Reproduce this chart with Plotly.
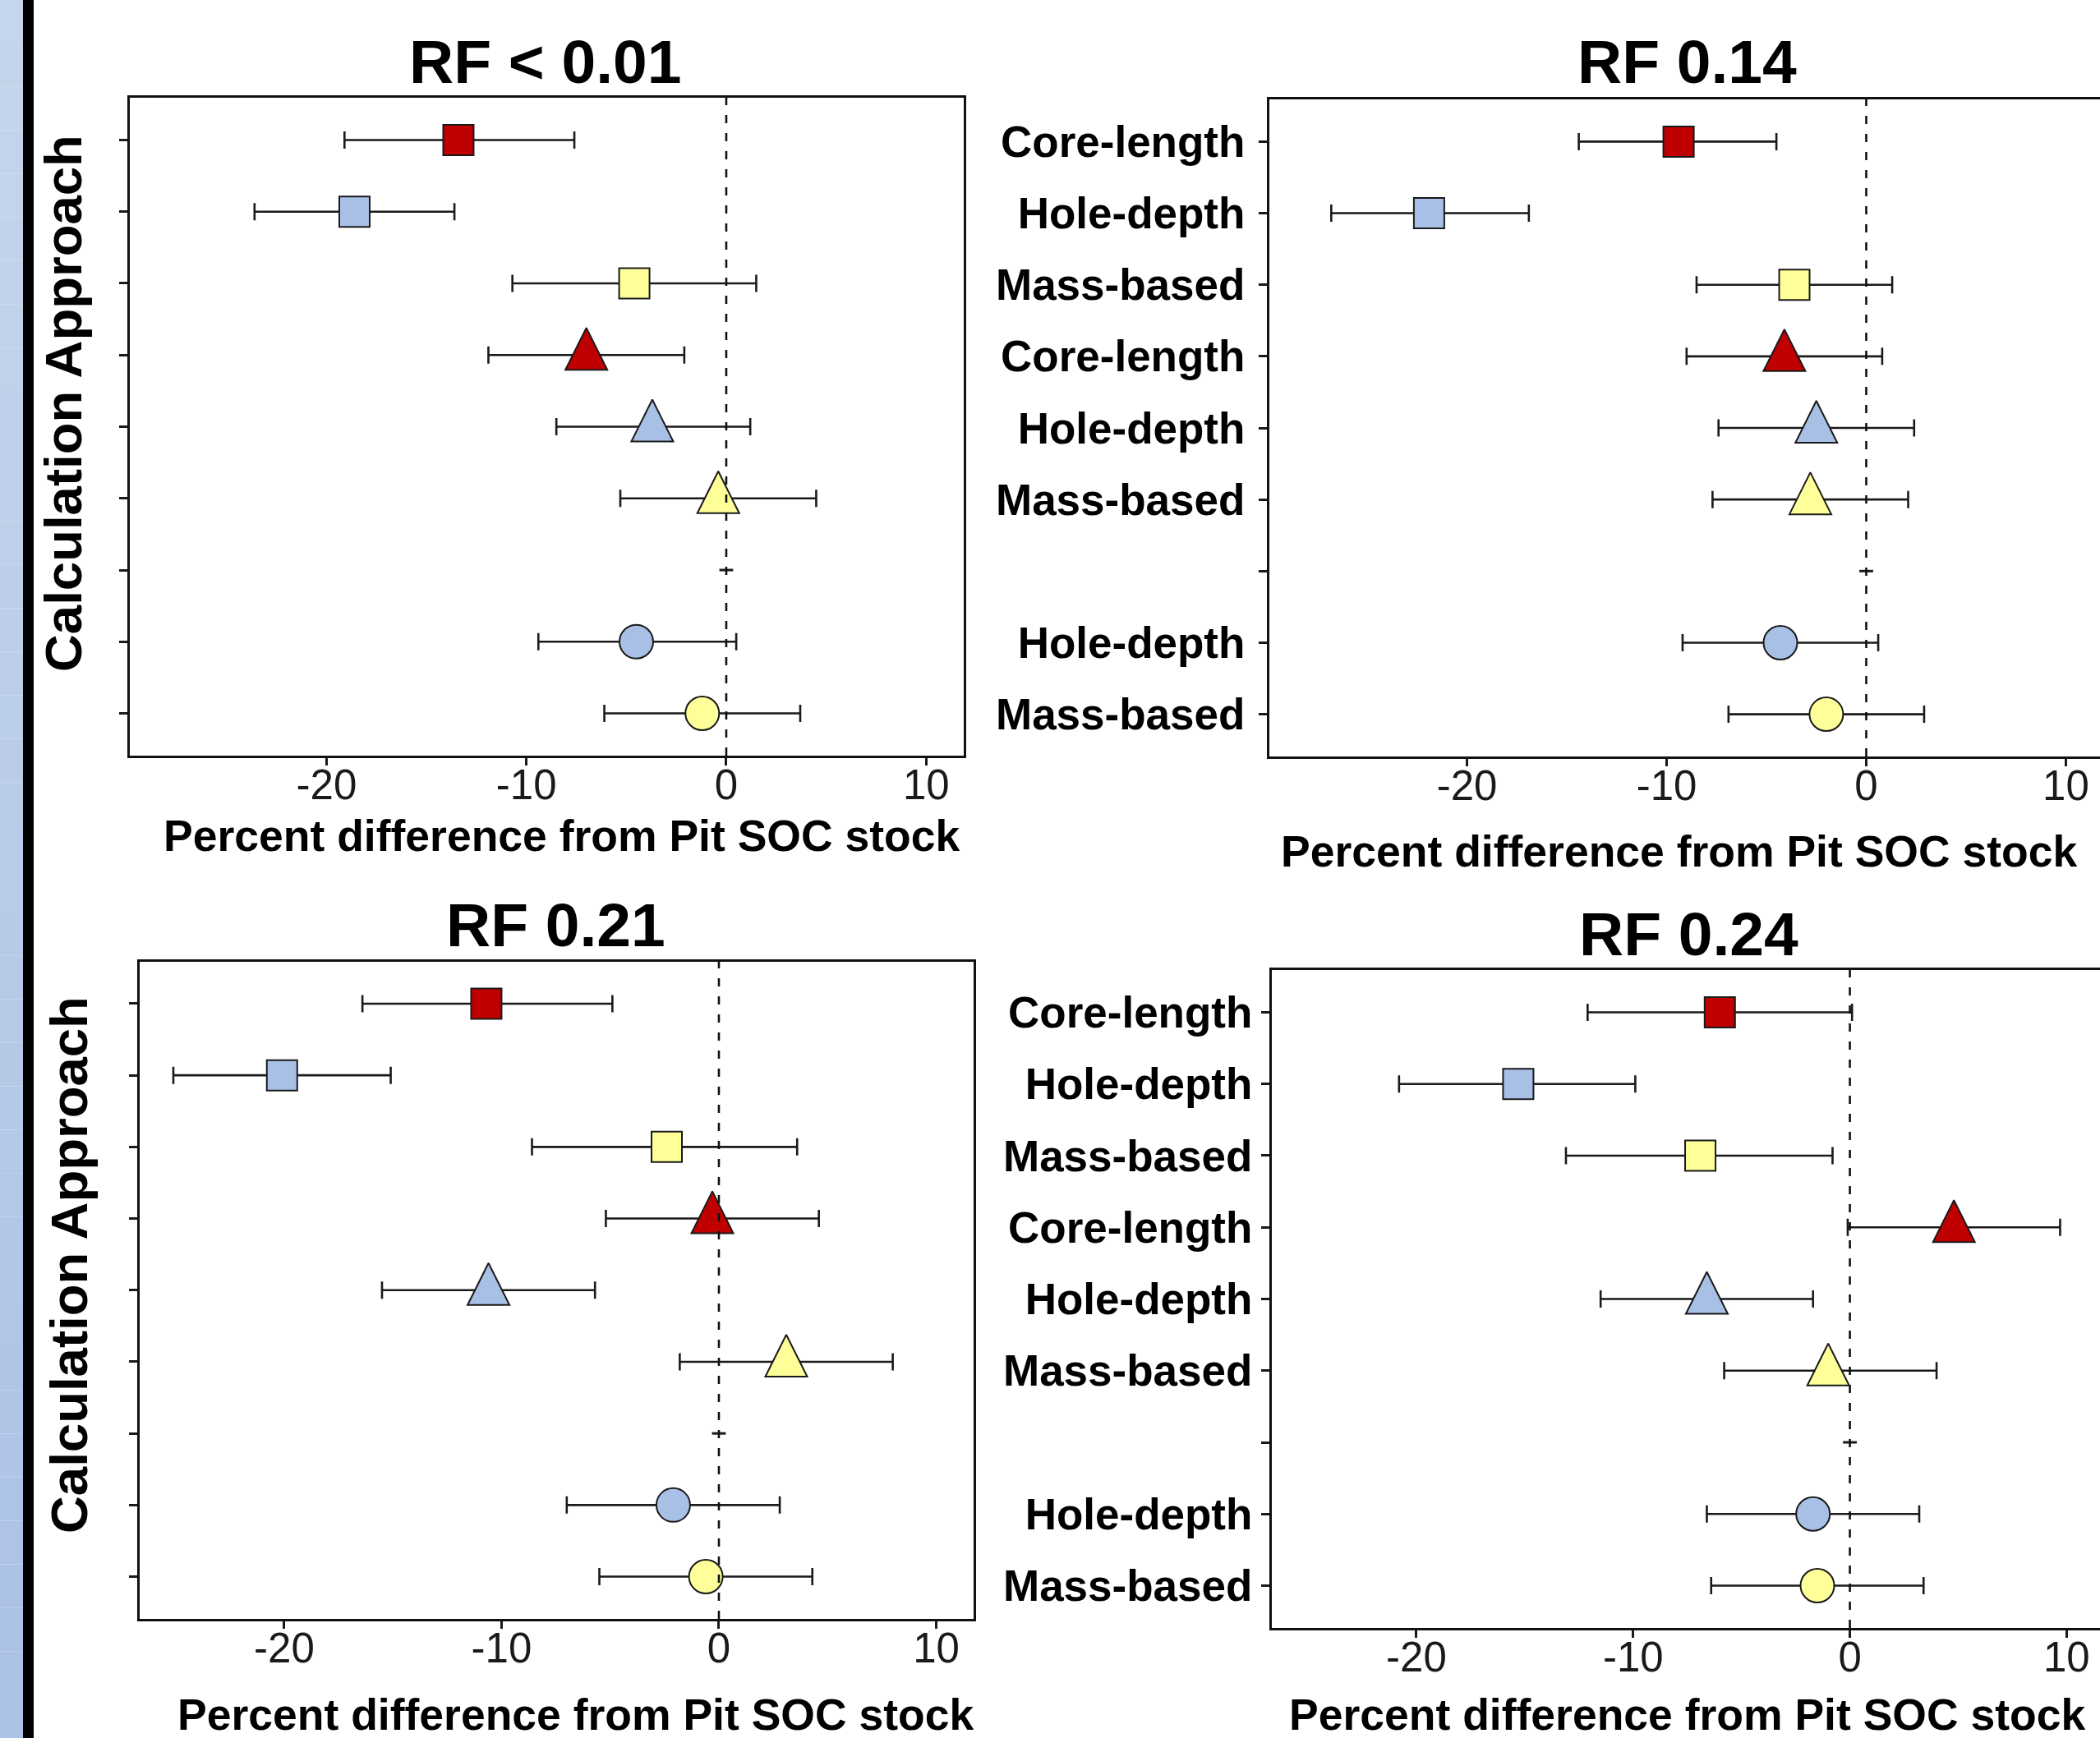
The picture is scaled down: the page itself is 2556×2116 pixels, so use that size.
import plotly.graph_objects as go

W, H = 2556, 2116

# ---------------- data ----------------
row_labels = ["Core-length", "Hole-depth", "Mass-based",
              "Core-length", "Hole-depth", "Mass-based",
              "",
              "Hole-depth", "Mass-based"]
row_symbols = ["square", "square", "square",
               "triangle", "triangle", "triangle",
               "blank",
               "circle", "circle"]

panel_titles = ["RF < 0.01", "RF 0.14", "RF 0.21", "RF 0.24"]

rf001_mean = [-13.4, -18.6, -4.6, -7.0, -3.7, -0.4, 0.0, -4.5, -1.2]
rf001_low = [-19.1, -23.6, -10.7, -11.9, -8.5, -5.3, 0.0, -9.4, -6.1]
rf001_high = [-7.6, -13.6, 1.5, -2.1, 1.2, 4.5, 0.0, 0.5, 3.7]

rf014_mean = [-9.4, -21.9, -3.6, -4.1, -2.5, -2.8, 0.0, -4.3, -2.0]
rf014_low = [-14.4, -26.8, -8.5, -9.0, -7.4, -7.7, 0.0, -9.2, -6.9]
rf014_high = [-4.5, -16.9, 1.3, 0.8, 2.4, 2.1, 0.0, 0.6, 2.9]

rf021_mean = [-10.7, -20.1, -2.4, -0.3, -10.6, 3.1, 0.0, -2.1, -0.6]
rf021_low = [-16.4, -25.1, -8.6, -5.2, -15.5, -1.8, 0.0, -7.0, -5.5]
rf021_high = [-4.9, -15.1, 3.6, 4.6, -5.7, 8.0, 0.0, 2.8, 4.3]

rf024_mean = [-6.0, -15.3, -6.9, 4.8, -6.6, -1.0, 0.0, -1.7, -1.5]
rf024_low = [-12.1, -20.8, -13.1, -0.1, -11.5, -5.8, 0.0, -6.6, -6.4]
rf024_high = [0.1, -9.9, -0.8, 9.7, -1.7, 4.0, 0.0, 3.2, 3.4]

x_tick_values = [-20, -10, 0, 10]
x_tick_text = ["-20", "-10", "0", "10"]
x_title = "Percent difference from Pit SOC stock"
y_title = "Calculation Approach"

method_colors = {"Core-length": "#c00000", "Hole-depth": "#a9c0e6",
                 "Mass-based": "#ffff99", "": "#1a1a1a"}

# ---------------- layout geometry (pixels) ----------------
FONT = "Liberation Sans, Arial, sans-serif"
panels = [
    dict(title=panel_titles[0], mean=rf001_mean, low=rf001_low, high=rf001_high,
         box=(158, 1173, 119, 920), xr=(-29.84, 11.88), labels=False, lstand=0,
         title_xy=(663, 75), xt_xy=(684, 1017), yt_xy=(77, 491)),
    dict(title=panel_titles[1], mean=rf014_mean, low=rf014_low, high=rf014_high,
         box=(1545, 2556, 121, 921), xr=(-29.90, 11.71), labels=True, lstand=6,
         title_xy=(2053, 75), xt_xy=(2043, 1036), yt_xy=None),
    dict(title=panel_titles[2], mean=rf021_mean, low=rf021_low, high=rf021_high,
         box=(170, 1184.5, 1170.5, 1971), xr=(-26.65, 11.70), labels=False, lstand=0,
         title_xy=(676, 1126), xt_xy=(700, 2087), yt_xy=(84, 1540)),
    dict(title=panel_titles[3], mean=rf024_mean, low=rf024_low, high=rf024_high,
         box=(1548, 2556, 1181, 1982), xr=(-26.67, 11.54), labels=True, lstand=0,
         title_xy=(2055, 1137), xt_xy=(2053, 2087), yt_xy=None),
]

def px(x):
    return x / W

def py(y):
    return 1 - y / H

n = len(row_labels)
y_pos = [n - i for i in range(n)]

fig = go.Figure()
annotations = []
shapes = []

# left decorative strip (light-blue gradient + black bar)
nb = 40
c0 = (0xC5, 0xD5, 0xEB)
c1 = (0xAB, 0xC1, 0xE5)
for k in range(nb):
    t = k / (nb - 1)
    col = "rgb(%d,%d,%d)" % tuple(round(c0[j] + (c1[j] - c0[j]) * t) for j in range(3))
    shapes.append(dict(type="rect", xref="paper", yref="paper",
                       x0=0, x1=px(28), y0=py(H * (k + 1) / nb), y1=py(H * k / nb),
                       fillcolor=col, line=dict(width=0), layer="below"))
shapes.append(dict(type="rect", xref="paper", yref="paper",
                   x0=px(28), x1=px(41), y0=0, y1=1,
                   fillcolor="black", line=dict(width=0), layer="below"))

# marker styles per shape kind (triangle: an arrow-head flipped upright and
# shifted so its centroid sits on the data point)
kind_style = {
    "square": dict(symbol="square", size=37, standoff=0, angle=0),
    "circle": dict(symbol="circle", size=41, standoff=0, angle=0),
    "triangle": dict(symbol="arrow-down", size=51, standoff=33, angle=180),
}

for i, p in enumerate(panels):
    sfx = "" if i == 0 else str(i + 1)
    xa, ya = "x" + sfx, "y" + sfx
    x0, x1, yt, yb = p["box"]

    # error bars (drawn first, underneath markers)
    idx = [k for k in range(n) if row_symbols[k] != "blank"]
    fig.add_trace(go.Scatter(
        x=[p["mean"][k] for k in idx],
        y=[y_pos[k] for k in idx],
        mode="markers", xaxis=xa, yaxis=ya,
        marker=dict(size=1, opacity=0, color="black"),
        error_x=dict(type="data", symmetric=False,
                     array=[p["high"][k] - p["mean"][k] for k in idx],
                     arrayminus=[p["mean"][k] - p["low"][k] for k in idx],
                     color="#1a1a1a", thickness=2.6, width=10.5),
        showlegend=False, hoverinfo="skip"))

    for kind, st in kind_style.items():
        ks = [k for k in range(n) if row_symbols[k] == kind]
        fig.add_trace(go.Scatter(
            x=[p["mean"][k] for k in ks],
            y=[y_pos[k] for k in ks],
            mode="markers", xaxis=xa, yaxis=ya,
            marker=dict(symbol=st["symbol"], size=st["size"], standoff=st["standoff"],
                        angle=st["angle"], opacity=1,
                        color=[method_colors[row_labels[k]] for k in ks],
                        line=dict(color="#1a1a1a", width=2)),
            showlegend=False, hoverinfo="skip"))

    blank = [k for k in range(n) if row_symbols[k] == "blank"]
    fig.add_trace(go.Scatter(
        x=[p["mean"][k] for k in blank],
        y=[y_pos[k] for k in blank],
        mode="markers", xaxis=xa, yaxis=ya,
        marker=dict(symbol="line-ew", size=12, opacity=1,
                    line=dict(color="#1a1a1a", width=3)),
        showlegend=False, hoverinfo="skip"))

    mirror_y = x1 < W - 1
    fig.update_layout(**{
        ("xaxis" + sfx): dict(
            domain=[px(x0), px(x1)], range=list(p["xr"]), anchor=ya,
            tickvals=x_tick_values, ticktext=x_tick_text,
            ticks="outside", ticklen=9, tickwidth=2.5, tickcolor="#1a1a1a",
            ticklabelstandoff=-20,
            showline=True, linewidth=3, linecolor="#111111", mirror=True,
            showgrid=False, zeroline=False,
            tickfont=dict(family=FONT, size=51, color="#1a1a1a"),
        ),
        ("yaxis" + sfx): dict(
            domain=[py(yb), py(yt)], range=[0.41, 9.59], anchor=xa,
            tickvals=y_pos, ticktext=row_labels if p["labels"] else [""] * n,
            ticks="outside", ticklen=10, tickwidth=2.5, tickcolor="#1a1a1a",
            showline=True, linewidth=3, linecolor="#111111",
            mirror=mirror_y, showgrid=False, zeroline=False,
            ticklabelstandoff=p["lstand"],
            tickfont=dict(family=FONT, size=53, color="black", weight="bold"),
        ),
    })

    # dashed reference line at zero
    shapes.append(dict(type="line", xref=xa, yref=ya + " domain",
                       x0=0, x1=0, y0=0, y1=1, layer="above",
                       line=dict(color="#111111", width=2.6, dash="10px,12px")))

    tx, ty = p["title_xy"]
    annotations.append(dict(text=p["title"], x=px(tx), y=py(ty), xref="paper", yref="paper",
                            showarrow=False, xanchor="center", yanchor="middle",
                            font=dict(family=FONT, size=75, color="black", weight="bold")))
    ax_, ay_ = p["xt_xy"]
    annotations.append(dict(text=x_title, x=px(ax_), y=py(ay_), xref="paper", yref="paper",
                            showarrow=False, xanchor="center", yanchor="middle",
                            font=dict(family=FONT, size=53.5, color="black", weight="bold")))
    if p["yt_xy"]:
        yx, yy = p["yt_xy"]
        annotations.append(dict(text=y_title, x=px(yx), y=py(yy), xref="paper", yref="paper",
                                showarrow=False, xanchor="center", yanchor="middle",
                                textangle=-90,
                                font=dict(family=FONT, size=63.5, color="black", weight="bold")))

fig.update_layout(
    width=W, height=H, margin=dict(l=0, r=0, t=0, b=0),
    paper_bgcolor="white", plot_bgcolor="white",
    shapes=shapes, annotations=annotations,
)

fig.write_html("out.html", config={"displayModeBar": False},
               post_script="document.body.style.margin='0';")
